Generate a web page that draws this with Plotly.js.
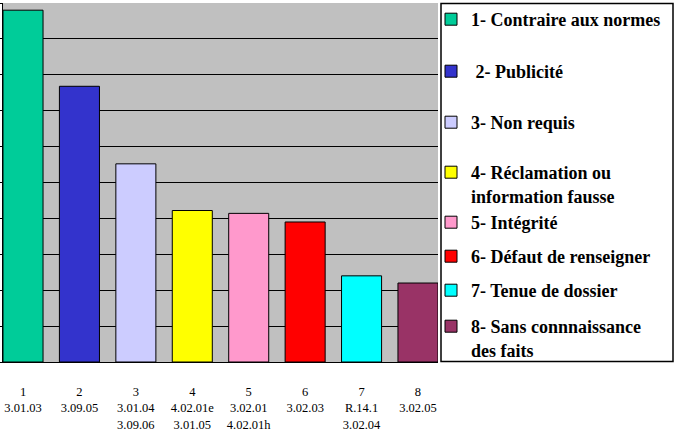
<!DOCTYPE html>
<html>
<head>
<meta charset="utf-8">
<script src="https://cdn.plot.ly/plotly-3.0.1.min.js"></script>
<style>html,body{margin:0;padding:0;background:#fff;}#chart{width:674px;height:431px;}</style>
</head>
<body>
<div id="chart"></div>
<script>
// ---- data ----
const categoryNumbers = ["1", "2", "3", "4", "5", "6", "7", "8"];
const categoryCodes = [
  "3.01.03",
  "3.09.05",
  "3.01.04<br>3.09.06",
  "4.02.01e<br>3.01.05",
  "3.02.01<br>4.02.01h",
  "3.02.03",
  "R.14.1<br>3.02.04",
  "3.02.05"
];
const seriesNames = [
  "1- Contraire aux normes",
  " 2- Publicité",
  "3- Non requis",
  "4- Réclamation ou<br>information fausse",
  "5- Intégrité",
  "6- Défaut de renseigner",
  "7- Tenue de dossier",
  "8- Sans connnaissance<br>des faits"
];
const values = [49.0, 38.4, 27.6, 21.1, 20.7, 19.5, 12.0, 11.0];
const colors = ["#00CC99", "#3333CC", "#CCCCFF", "#FFFF00", "#FF99CC", "#FF0000", "#00FFFF", "#993366"];

// ---- layout helpers ----
const W = 674, H = 431;
const M = {l: 3, r: 236, t: 2, b: 69};
const plotW = W - M.l - M.r, plotH = H - M.t - M.b;
const px2x = p => (p - M.l) / plotW;
const py2y = p => (H - M.b - p) / plotH;

// legend first-line centre (pixels) for each entry
const legendLineY = [20, 72, 123, 173, 223, 257, 291, 327];

const positions = categoryNumbers.map((_, i) => i);
const tickText = categoryNumbers.map((n, i) => n + "<br>" + categoryCodes[i]);

const traces = values.map((v, i) => ({
  type: "bar",
  x: [positions[i]],
  y: [v],
  name: seriesNames[i],
  width: 0.7096,
  marker: {color: colors[i], line: {color: "#000", width: 1}},
  legend: i === 0 ? "legend" : "legend" + (i + 1),
  hoverinfo: "skip"
}));

const layout = {
  width: W, height: H,
  margin: M,
  paper_bgcolor: "#fff",
  plot_bgcolor: "#C0C0C0",
  barmode: "overlay",
  showlegend: true,
  font: {family: "Liberation Serif, Times New Roman, serif", color: "#000", size: 13},
  xaxis: {
    range: [-0.3548, 7.3548],
    tickvals: positions,
    ticktext: tickText,
    showgrid: false,
    zeroline: false,
    showline: true, linecolor: "#000", linewidth: 1,
    ticks: "",
    ticklabelstandoff: 18,
    tickfont: {family: "Liberation Serif", size: 12.5, color: "#000"},
    fixedrange: true
  },
  yaxis: {
    range: [0, 50],
    dtick: 5,
    showgrid: true, gridcolor: "#000", gridwidth: 1,
    zeroline: false,
    showline: true, linecolor: "#000", linewidth: 1,
    ticks: "outside", ticklen: 3, tickcolor: "#000",
    showticklabels: false,
    fixedrange: true
  },
  shapes: [{
    type: "rect", xref: "paper", yref: "paper", layer: "below",
    x0: px2x(441), x1: px2x(673), y0: py2y(361.5), y1: py2y(2.5),
    line: {color: "#000", width: 1.5}, fillcolor: "#fff"
  }]
};

legendLineY.forEach((yc, i) => {
  const key = i === 0 ? "legend" : "legend" + (i + 1);
  layout[key] = {
    x: px2x(431), xanchor: "left",
    y: py2y(yc - 19), yanchor: "top",
    bgcolor: "rgba(0,0,0,0)",
    borderwidth: 0,
    valign: "top",
    font: {family: "Liberation Serif", size: 18, weight: "bold", color: "#000"},
    itemclick: false, itemdoubleclick: false
  };
});

Plotly.newPlot("chart", traces, layout, {displayModeBar: false, staticPlot: true});
</script>
</body>
</html>
